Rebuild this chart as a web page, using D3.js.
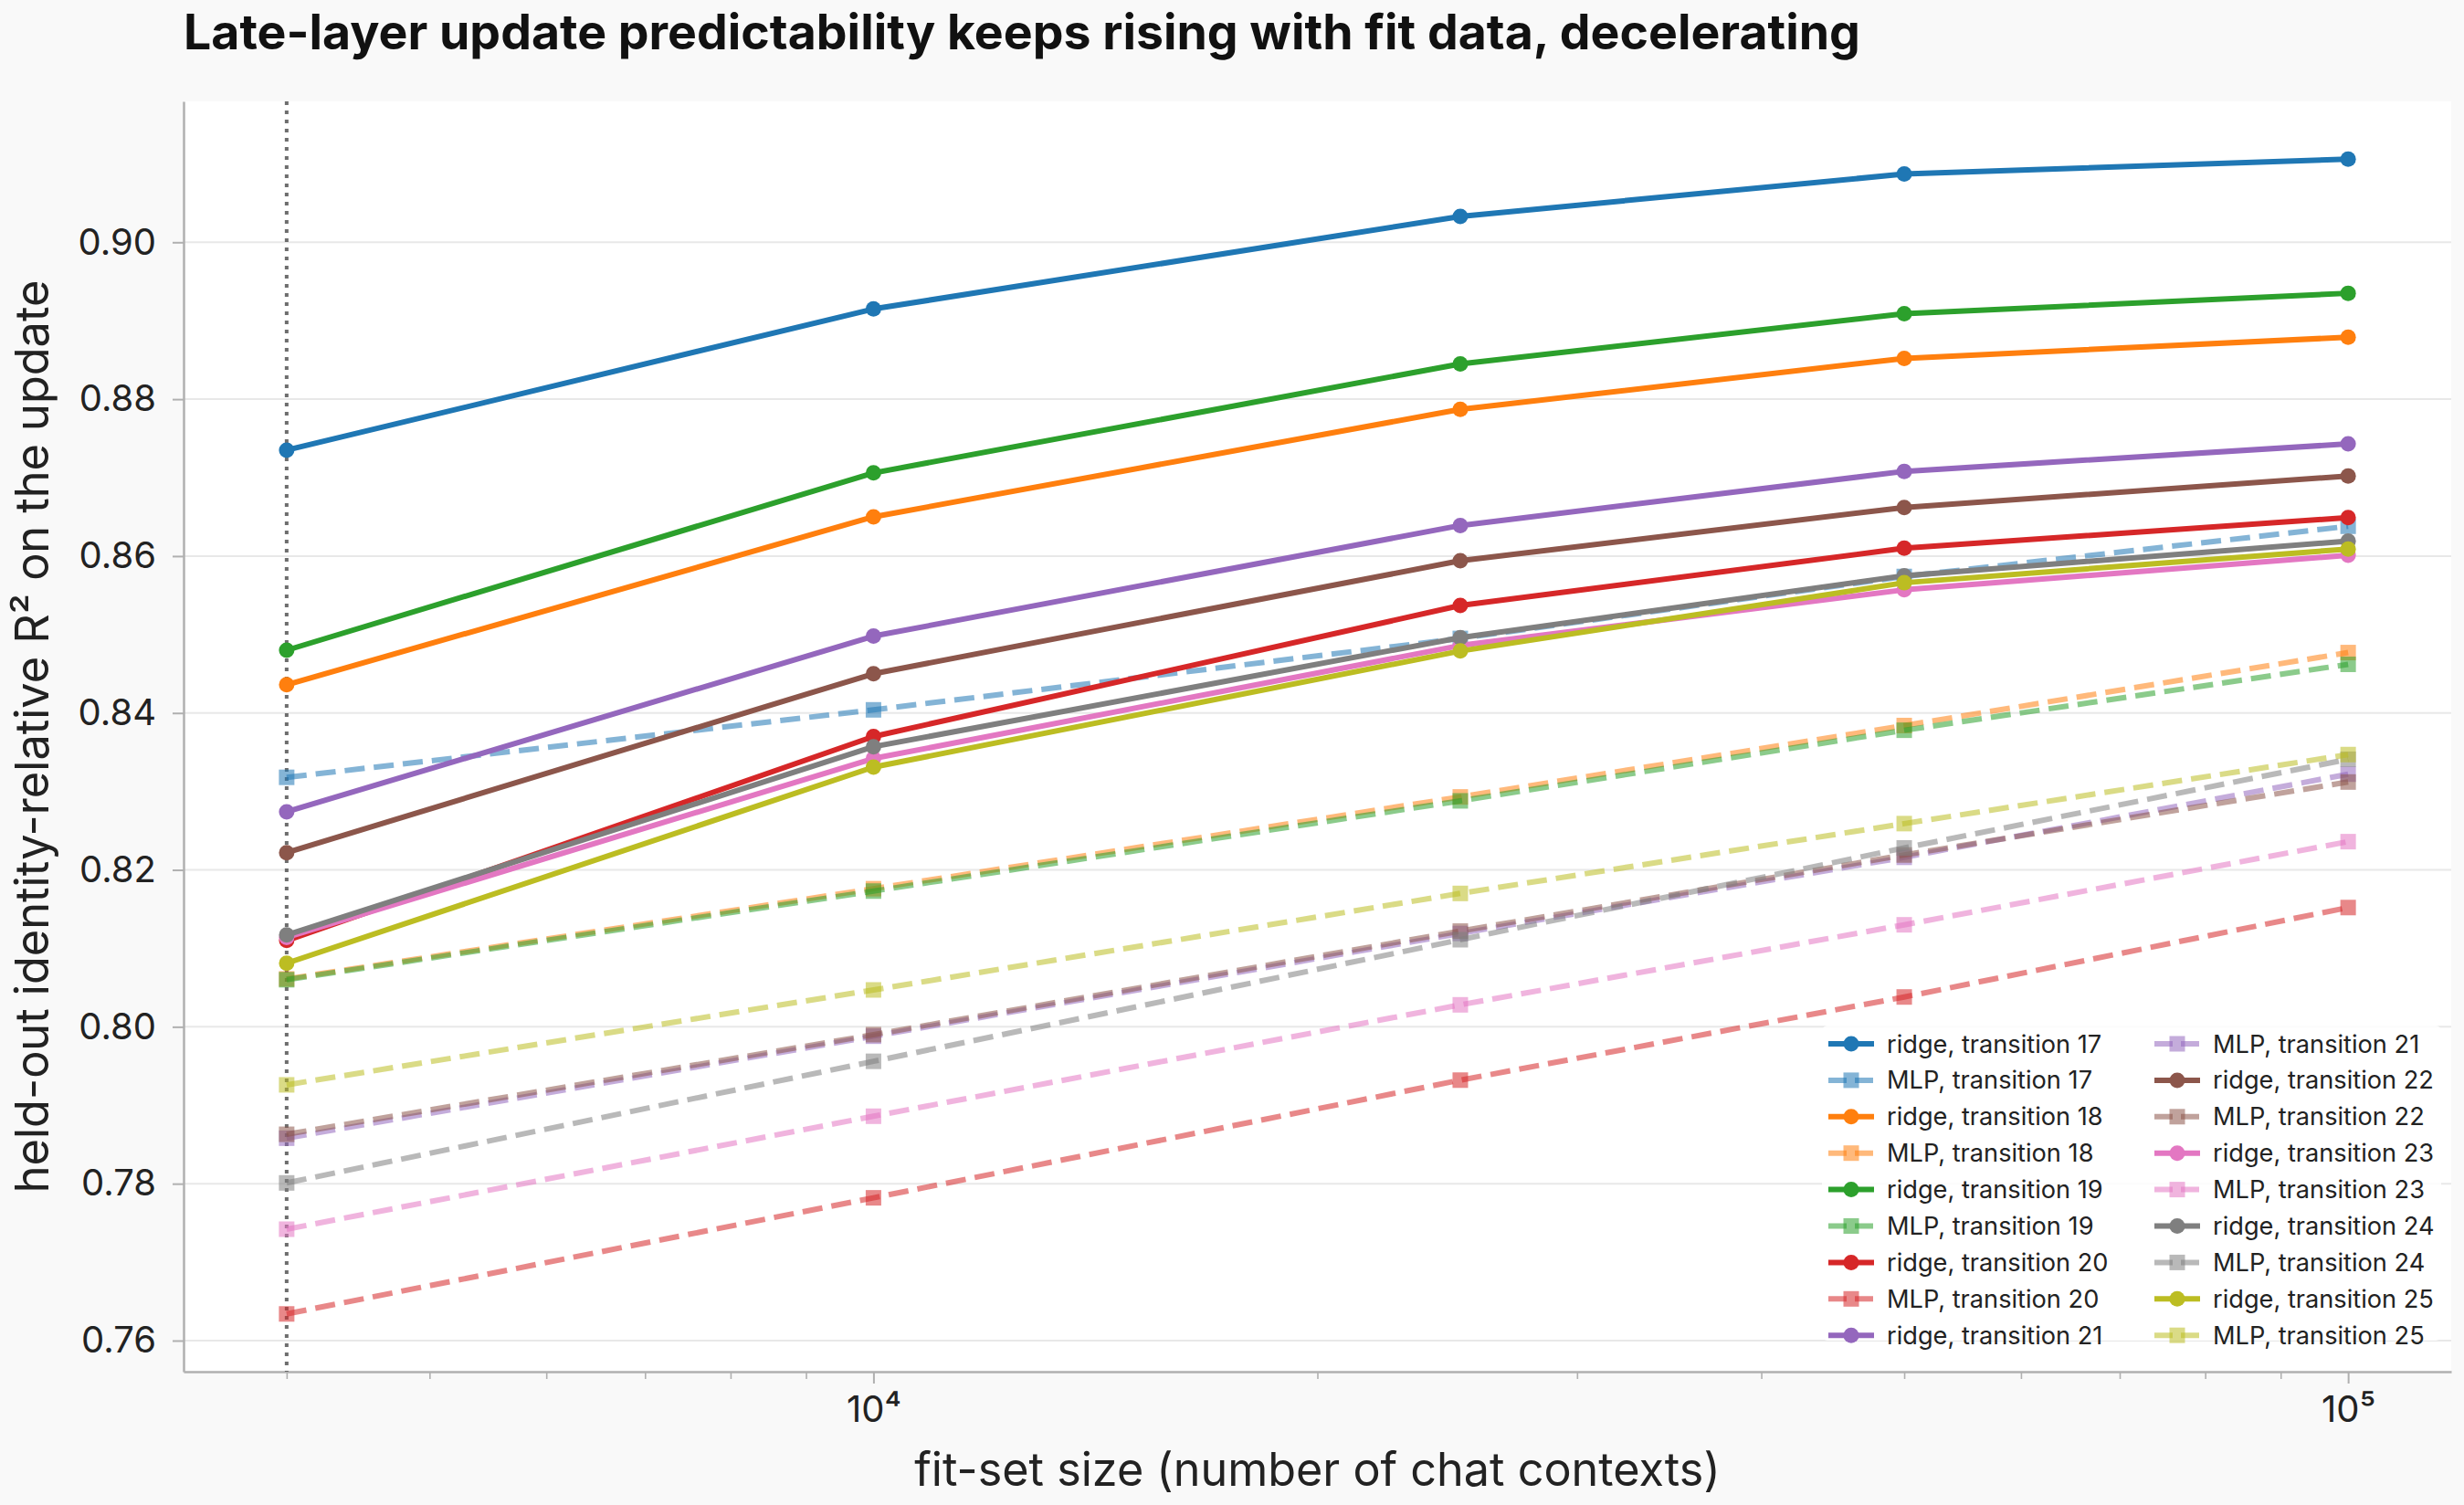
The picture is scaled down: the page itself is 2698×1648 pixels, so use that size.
<!DOCTYPE html>
<html>
<head>
<meta charset="utf-8">
<script src="https://cdn.jsdelivr.net/npm/d3@7"></script>
<style>
  html, body { margin: 0; padding: 0; background: #f9f9f9; }
  svg { display: block; font-family: Inter, "Noto Sans", "DejaVu Sans", sans-serif; }
</style>
</head>
<body>
<div id="chart"></div>
<script>
// fit-set sizes (x) and transitions (one colour each)
const fitSizes = [4000, 10000, 25000, 50000, 100000];
const transitions = [17, 18, 19, 20, 21, 22, 23, 24, 25];
const colors = ["#1f77b4", "#ff7f0e", "#2ca02c", "#d62728", "#9467bd",
                "#8c564b", "#e377c2", "#7f7f7f", "#bcbd22"];

// held-out identity-relative R², one row per transition, one value per fit size
const ridgeR2 = [
  [0.8735, 0.8915, 0.9033, 0.9087, 0.9106],
  [0.8436, 0.8650, 0.8787, 0.8852, 0.8879],
  [0.8480, 0.8706, 0.8845, 0.8909, 0.8935],
  [0.8110, 0.8370, 0.8537, 0.8610, 0.8649],
  [0.8274, 0.8498, 0.8639, 0.8708, 0.8743],
  [0.8222, 0.8450, 0.8594, 0.8662, 0.8702],
  [0.8114, 0.8342, 0.8486, 0.8557, 0.8601],
  [0.8117, 0.8357, 0.8496, 0.8575, 0.8619],
  [0.8081, 0.8331, 0.8479, 0.8566, 0.8609],
];
const mlpR2 = [
  [0.8318, 0.8404, 0.8495, 0.8574, 0.8638],
  [0.8061, 0.8176, 0.8293, 0.8384, 0.8477],
  [0.8060, 0.8173, 0.8288, 0.8378, 0.8462],
  [0.7634, 0.7782, 0.7932, 0.8038, 0.8152],
  [0.7858, 0.7988, 0.8119, 0.8216, 0.8322],
  [0.7863, 0.7990, 0.8122, 0.8219, 0.8312],
  [0.7742, 0.7886, 0.8028, 0.8130, 0.8236],
  [0.7801, 0.7956, 0.8111, 0.8228, 0.8341],
  [0.7926, 0.8047, 0.8170, 0.8259, 0.8347],
];

const yTicks = [0.76, 0.78, 0.80, 0.82, 0.84, 0.86, 0.88, 0.90];
const xMajorTicks = [10000, 100000];
const xMajorLabels = ["10⁴", "10⁵"];
const xMinorTicks = [4000, 5000, 6000, 7000, 8000, 9000,
                     20000, 30000, 40000, 50000, 60000, 70000, 80000, 90000];
const refSize = 4000; // dotted reference line

(function () {
  const width = 2698;
  const height = 1648;
  const margin = { top: 111, right: 14, bottom: 146, left: 201 };

  const lineWidth = 6;
  const markerR = 8.5;

  const svg = d3.select("#chart")
    .append("svg")
    .attr("width", width)
    .attr("height", height);

  svg.append("rect")
    .attr("width", width).attr("height", height)
    .attr("fill", "#f9f9f9");

  // 5% padding like matplotlib autoscale (log space for x)
  const lx = fitSizes.map(Math.log10);
  const lpad = 0.05 * (d3.max(lx) - d3.min(lx));
  const x = d3.scaleLog()
    .domain([Math.pow(10, d3.min(lx) - lpad), Math.pow(10, d3.max(lx) + lpad)])
    .range([margin.left, width - margin.right]);

  const allVals = ridgeR2.flat().concat(mlpR2.flat());
  const [vmin, vmax] = d3.extent(allVals);
  const vpad = 0.05 * (vmax - vmin);
  const y = d3.scaleLinear()
    .domain([vmin - vpad, vmax + vpad])
    .range([height - margin.bottom, margin.top]);

  // plot area
  svg.append("rect")
    .attr("x", margin.left)
    .attr("y", margin.top)
    .attr("width", width - margin.left - margin.right)
    .attr("height", height - margin.top - margin.bottom)
    .attr("fill", "#ffffff");

  // ---------------------------GRID-----------------------------------
  svg.append("g")
    .selectAll("line")
    .data(yTicks)
    .join("line")
    .attr("x1", margin.left)
    .attr("x2", width - margin.right)
    .attr("y1", (d) => y(d))
    .attr("y2", (d) => y(d))
    .attr("stroke", "#e8e8e8")
    .attr("stroke-width", 2);

  // ---------------------------AXES-----------------------------------
  const yAxis = svg.append("g")
    .attr("transform", `translate(${margin.left},0)`)
    .call(d3.axisLeft(y).tickValues(yTicks).tickFormat(d3.format(".2f"))
      .tickSize(12).tickSizeOuter(0).tickPadding(18));

  yAxis.select(".domain").attr("stroke", "#b0b0b0").attr("stroke-width", 2.5);
  yAxis.selectAll(".tick line").attr("stroke", "#b0b0b0").attr("stroke-width", 2);
  yAxis.selectAll(".tick text")
    .attr("font-family", "Inter, sans-serif")
    .attr("font-size", 40)
    .attr("fill", "#222");

  const xAxis = svg.append("g")
    .attr("transform", `translate(0,${height - margin.bottom})`)
    .call(d3.axisBottom(x).tickValues(xMajorTicks)
      .tickFormat((d, i) => xMajorLabels[i])
      .tickSize(13).tickSizeOuter(0).tickPadding(14));

  xAxis.select(".domain").attr("stroke", "#b0b0b0").attr("stroke-width", 2.5);
  xAxis.selectAll(".tick line").attr("stroke", "#b0b0b0").attr("stroke-width", 2);
  xAxis.selectAll(".tick text")
    .attr("font-family", "Inter, sans-serif")
    .attr("font-size", 40)
    .attr("fill", "#222");

  const xMinor = svg.append("g")
    .attr("transform", `translate(0,${height - margin.bottom})`)
    .call(d3.axisBottom(x).tickValues(xMinorTicks).tickFormat("")
      .tickSize(8).tickSizeOuter(0));
  xMinor.select(".domain").remove();
  xMinor.selectAll(".tick line").attr("stroke", "#b0b0b0").attr("stroke-width", 1.6);

  // dotted reference line at the smallest fit size
  svg.append("line")
    .attr("x1", x(refSize))
    .attr("x2", x(refSize))
    .attr("y1", margin.top)
    .attr("y2", height - margin.bottom)
    .attr("stroke", "#555")
    .attr("stroke-opacity", 0.85)
    .attr("stroke-width", 4)
    .attr("stroke-dasharray", "4,6");

  // ---------------------------LINES-----------------------------------
  const line = d3.line()
    .x((d) => x(d[0]))
    .y((d) => y(d[1]));

  const series = svg.append("g");

  transitions.forEach((t, i) => {
    const ridgePts = fitSizes.map((s, j) => [s, ridgeR2[i][j]]);
    const mlpPts = fitSizes.map((s, j) => [s, mlpR2[i][j]]);

    // ridge: solid, circles
    series.append("path")
      .datum(ridgePts)
      .attr("d", line)
      .attr("fill", "none")
      .attr("stroke", colors[i])
      .attr("stroke-width", lineWidth)
      .attr("stroke-linejoin", "round");

    series.append("g")
      .selectAll("circle")
      .data(ridgePts)
      .join("circle")
      .attr("cx", (d) => x(d[0]))
      .attr("cy", (d) => y(d[1]))
      .attr("r", markerR)
      .attr("fill", colors[i]);

    // MLP: dashed, translucent squares
    series.append("path")
      .datum(mlpPts)
      .attr("d", line)
      .attr("fill", "none")
      .attr("stroke", colors[i])
      .attr("stroke-opacity", 0.55)
      .attr("stroke-width", lineWidth)
      .attr("stroke-dasharray", "22,10");

    series.append("g")
      .selectAll("rect")
      .data(mlpPts)
      .join("rect")
      .attr("x", (d) => x(d[0]) - markerR)
      .attr("y", (d) => y(d[1]) - markerR)
      .attr("width", 2 * markerR)
      .attr("height", 2 * markerR)
      .attr("fill", colors[i])
      .attr("fill-opacity", 0.55);
  });

  // ---------------------------LEGEND-----------------------------------
  const legendItems = [];
  transitions.forEach((t, i) => {
    legendItems.push({ label: `ridge, transition ${t}`, color: colors[i], kind: "ridge" });
    legendItems.push({ label: `MLP, transition ${t}`, color: colors[i], kind: "mlp" });
  });

  const legend = svg.append("g").attr("transform", "translate(1995,1123)");

  legend.append("rect")
    .attr("width", 678)
    .attr("height", 345)
    .attr("rx", 6)
    .attr("fill", "#ffffff")
    .attr("fill-opacity", 0.85);

  const rowsPerCol = 9;
  const entries = legend.selectAll("g.entry")
    .data(legendItems)
    .join("g")
    .attr("class", "entry")
    .attr("transform", (d, i) =>
      `translate(${7 + Math.floor(i / rowsPerCol) * 357},${20 + (i % rowsPerCol) * 39.9})`);

  entries.append("line")
    .attr("x1", 0)
    .attr("x2", 50)
    .attr("stroke", (d) => d.color)
    .attr("stroke-width", lineWidth)
    .attr("stroke-opacity", (d) => (d.kind === "mlp" ? 0.55 : 1))
    .attr("stroke-dasharray", (d) => (d.kind === "mlp" ? "20,9" : null));

  entries.filter((d) => d.kind === "ridge")
    .append("circle")
    .attr("cx", 25)
    .attr("r", markerR)
    .attr("fill", (d) => d.color);

  entries.filter((d) => d.kind === "mlp")
    .append("rect")
    .attr("x", 25 - markerR)
    .attr("y", -markerR)
    .attr("width", 2 * markerR)
    .attr("height", 2 * markerR)
    .attr("fill", (d) => d.color)
    .attr("fill-opacity", 0.55);

  entries.append("text")
    .attr("x", 64)
    .attr("dy", "0.35em")
    .attr("font-size", 27.2)
    .attr("fill", "#222")
    .text((d) => d.label);

  // ---------------------------TEXT-----------------------------------
  svg.append("text")
    .attr("x", margin.left)
    .attr("y", 54)
    .attr("font-size", 53.6)
    .attr("font-weight", "bold")
    .attr("fill", "#111")
    .text("Late-layer update predictability keeps rising with fit data, decelerating");

  svg.append("text")
    .attr("x", (margin.left + width - margin.right) / 2)
    .attr("y", 1627)
    .attr("text-anchor", "middle")
    .attr("font-size", 50.3)
    .attr("fill", "#222")
    .text("fit-set size (number of chat contexts)");

  svg.append("text")
    .attr("transform",
      `translate(53,${(margin.top + height - margin.bottom) / 2}) rotate(-90)`)
    .attr("text-anchor", "middle")
    .attr("font-size", 50.4)
    .attr("fill", "#222")
    .text("held-out identity-relative R² on the update");
})();
</script>
</body>
</html>
